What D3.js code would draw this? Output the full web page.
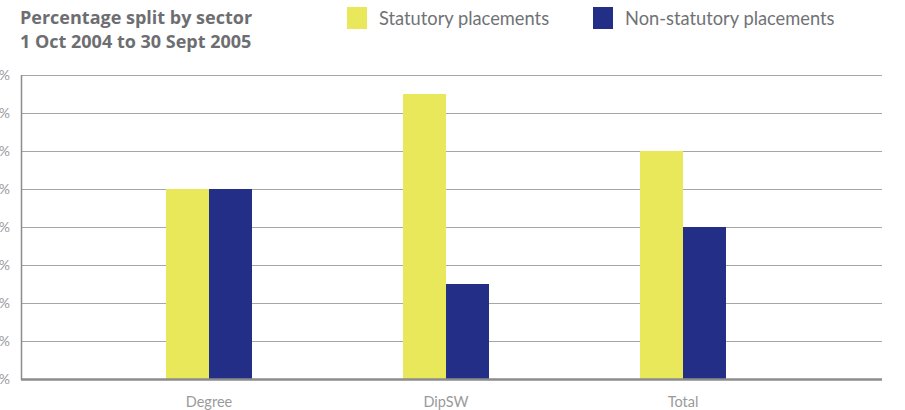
<!DOCTYPE html>
<html><head><meta charset="utf-8">
<script src="https://cdn.jsdelivr.net/npm/d3@7"></script>
<style>body{margin:0;background:#fff}svg{display:block}</style>
</head><body>
<svg id="chart" width="905" height="410"></svg>
<script>
const categories = ["Degree", "DipSW", "Total"];
const seriesNames = ["Statutory placements", "Non-statutory placements"];
const statutory = [50, 75, 60];
const nonStatutory = [50, 25, 40];
const yTicks = [0, 10, 20, 30, 40, 50, 60, 70, 80];
const titleLines = ["Percentage split by sector", "1 Oct 2004 to 30 Sept 2005"];
const colors = ["#e8e85a", "#232f87"];

const svg = d3.select("#chart");
const plot = {left: 21, right: 882, top: 75, bottom: 379};

const y = d3.scaleLinear().domain([0, 80]).range([plot.bottom, plot.top]);
const x = d3.scaleBand().domain(categories).range([90.5, 801.5]).paddingInner(0).paddingOuter(0);
const xs = d3.scaleBand().domain(seriesNames).range([0, 86]);
const series = [statutory, nonStatutory];

// gridlines
svg.append("g").selectAll("line").data(yTicks.filter(d => d > 0)).join("line")
  .attr("x1", plot.left).attr("x2", plot.right)
  .attr("y1", d => Math.round(y(d)) + 0.5).attr("y2", d => Math.round(y(d)) + 0.5)
  .attr("stroke", "#a6a6a6").attr("stroke-width", 1);

// y tick labels (partly beyond the left edge, as in the original)
svg.append("g").selectAll("text").data(yTicks).join("text")
  .attr("x", 10).attr("y", d => y(d) + 5)
  .attr("text-anchor", "end")
  .attr("font-family", "Lato, Open Sans, sans-serif").attr("font-size", 14)
  .attr("fill", "#9a9a9a")
  .text(d => d + "%");

// bars
const groups = svg.append("g").selectAll("g").data(categories).join("g")
  .attr("transform", d => `translate(${x(d) + x.bandwidth() / 2 - 43},0)`);
groups.selectAll("rect").data((c, i) => seriesNames.map((s, j) => ({s, v: series[j][i], j})))
  .join("rect")
  .attr("x", d => xs(d.s)).attr("width", xs.bandwidth())
  .attr("y", d => y(d.v)).attr("height", d => plot.bottom - y(d.v))
  .attr("fill", d => colors[d.j]);

// axes lines
svg.append("line").attr("x1", plot.left + 0.5).attr("x2", plot.left + 0.5)
  .attr("y1", plot.top).attr("y2", plot.bottom + 1)
  .attr("stroke", "#8c8c8c").attr("stroke-width", 1.5);
svg.append("line").attr("x1", plot.left).attr("x2", plot.right)
  .attr("y1", plot.bottom + 0.5).attr("y2", plot.bottom + 0.5)
  .attr("stroke", "#8c8c8c").attr("stroke-width", 2.5);

// category labels
svg.append("g").selectAll("text").data(categories).join("text")
  .attr("x", d => x(d) + x.bandwidth() / 2).attr("y", 407)
  .attr("text-anchor", "middle")
  .attr("font-family", "Lato, Open Sans, sans-serif").attr("font-size", 14.5)
  .attr("fill", "#9a9a9a")
  .text(d => d);

// title
svg.append("g").selectAll("text").data(titleLines).join("text")
  .attr("x", 20).attr("y", (d, i) => 24 + i * 24)
  .attr("font-family", "Open Sans, sans-serif").attr("font-weight", "bold").attr("font-size", 18)
  .attr("fill", "#6d6e71")
  .text(d => d);

// legend
const legendX = [347, 593];
const leg = svg.append("g").selectAll("g").data(seriesNames).join("g")
  .attr("transform", (d, i) => `translate(${legendX[i]},7)`);
leg.append("rect").attr("width", 20).attr("height", 22).attr("fill", (d, i) => colors[i]);
leg.append("text").attr("x", 32).attr("y", 18)
  .attr("font-family", "Lato, Open Sans, sans-serif").attr("font-size", 18.3)
  .attr("fill", "#707275")
  .text(d => d);
</script>
</body></html>
